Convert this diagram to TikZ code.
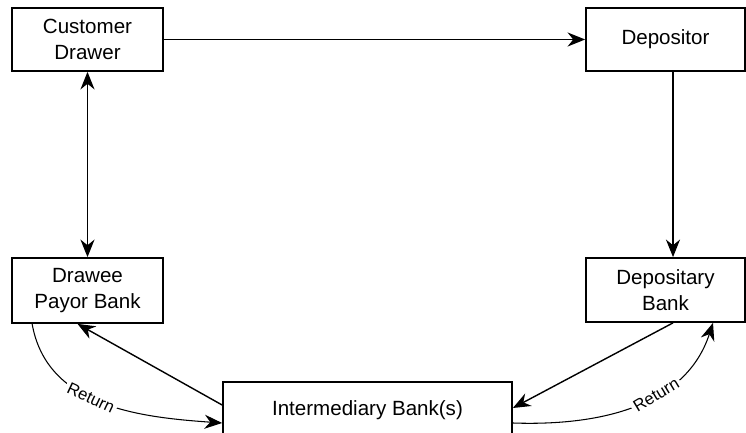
\documentclass[tikz,border=0pt]{standalone}
\usepackage{fontspec}
\setmainfont{Liberation Sans}
\usetikzlibrary{arrows.meta,calc}
\tikzset{
  box/.style={draw,line width=1pt,align=center,inner sep=0pt,
    font=\fontsize{11.7}{14.8}\selectfont},
  tip/.style={Stealth[length=10pt,width=8pt]},
  link/.style={line width=.8pt,-{Stealth[length=10pt,width=8pt]}},
  ret/.style={line width=.6pt,-{Stealth[length=10pt,width=8pt]}},
  retlabel/.style={sloped,fill=white,inner sep=1.5pt,font=\fontsize{9.5}{9.5}\selectfont}
}
\begin{document}
\begin{tikzpicture}
\useasboundingbox(0,0)rectangle(14.92,8.66);

%top row
\node[box,minimum width=3.02cm,minimum height=1.26cm](cust)at(1.75,7.87){Customer\\Drawer};
\node[box,minimum width=3.18cm,minimum height=1.26cm](dep)at(13.31,7.87){Depositor};

%banks
\node[box,minimum width=3.02cm,minimum height=1.3cm](drawee)at(1.75,2.85){Drawee\\Payor Bank};
\node[box,minimum width=3.18cm,minimum height=1.28cm](depbank)at(13.31,2.86){Depositary\\Bank};
\node[box,minimum width=5.78cm,minimum height=1.12cm](inter)at(7.35,.46){Intermediary Bank(s)};

%item flow
\draw[link](cust.east)--(dep.west);
\draw[line width=.8pt,{Stealth[length=10pt,width=8pt]}-{Stealth[length=10pt,width=8pt]}](cust.south)--(drawee.north);
\draw[link]([xshift=.15cm]dep.south)--([xshift=.15cm]depbank.north);
\draw[link]([xshift=.15cm]depbank.south)--([yshift=.04cm]inter.east);
\draw[link]([yshift=.1cm]inter.west)--([xshift=-.2cm]drawee.south);

%returns
\draw[ret]([xshift=.42cm]drawee.south west)to[out=-80,in=176]
  node[retlabel,pos=.45]{Return}([yshift=-.26cm]inter.west);
\draw[ret]([yshift=-.26cm]inter.east)to[out=-2,in=-108]
  node[retlabel,pos=.6]{Return}([xshift=.95cm]depbank.south);

\end{tikzpicture}
\end{document}
